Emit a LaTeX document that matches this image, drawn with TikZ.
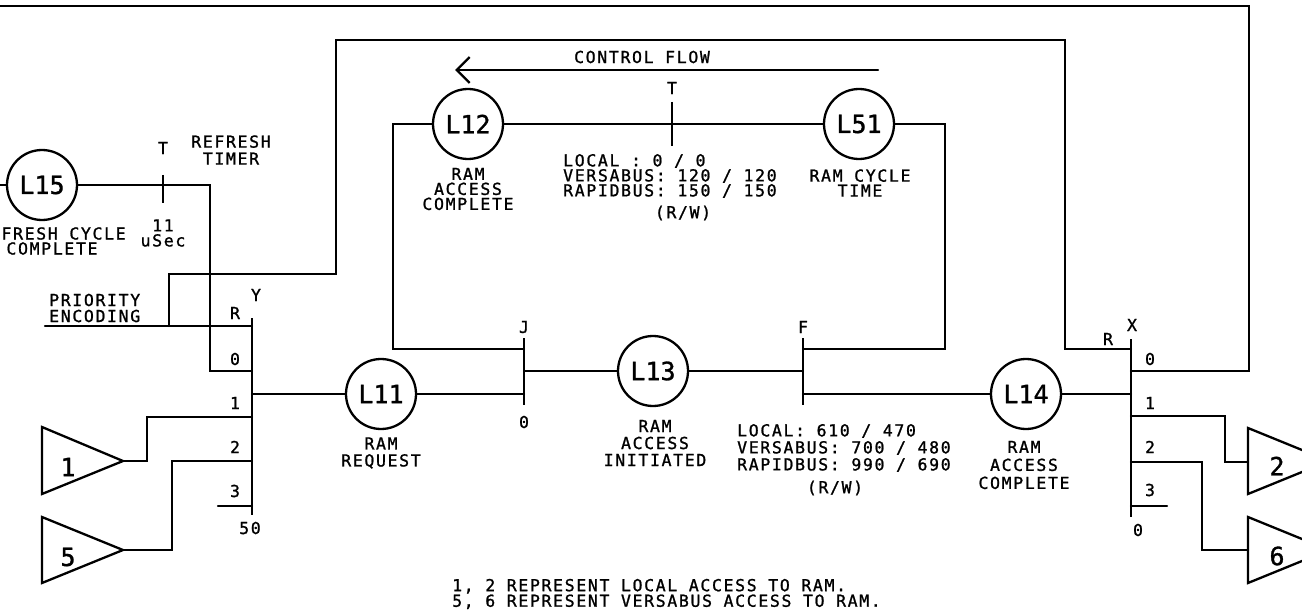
\documentclass[tikz,border=0pt]{standalone}
\usepackage{fontspec}
\newfontfamily\leroy[LetterSpace=10,FakeBold=1.2]{DejaVu Sans Mono}
\newfontfamily\leroybig[FakeBold=1.2]{DejaVu Sans Mono}
\usetikzlibrary{arrows.meta}
\begin{document}
\begin{tikzpicture}[x=1pt,y=-1pt,
  wire/.style={line width=2.3pt, line cap=round, line join=miter},
  bar/.style={line width=2.8pt},
  place/.style={circle, draw, line width=2.3pt, minimum size=70pt, inner sep=0pt, font=\leroybig\fontsize{25}{25}\selectfont},
  lab/.style={font=\leroy\fontsize{16.5}{15}\selectfont, inner sep=0pt, align=center},
  labl/.style={font=\leroy\fontsize{16.5}{17}\selectfont, inner sep=0pt, align=center},
  labw/.style={font=\leroy\fontsize{16.5}{15}\selectfont, inner sep=0pt, align=left, anchor=west},
  big/.style={font=\leroybig\fontsize{25}{25}\selectfont, inner sep=0pt},
  tri/.style={draw, line width=2.3pt, line join=miter}
]
\useasboundingbox (0,0) rectangle (1302,615);

% ---------- places ----------
\node[place] (L15) at (42,185) {L15};
\node[place] (L11) at (381,394) {L11};
\node[place] (L13) at (653,371) {L13};
\node[place] (L14) at (1026,394) {L14};
\node[place] (L12) at (468,124) {L12};
\node[place] (L51) at (859,124) {L51};

% ---------- coordinates ----------
\coordinate (otl) at (-10,6);
\coordinate (otr) at (1249,6);
\coordinate (pe)  at (45,326);
\coordinate (ilb) at (169,326);
\coordinate (ilc) at (336,274);
\coordinate (ilt) at (1065,40);
\coordinate (l15in) at (-10,185);
\coordinate (rtc) at (210,185);
% Y bar
\coordinate (Ytop) at (252,318);
\coordinate (Ybot) at (252,515);
\coordinate (YR) at (252,326);
\coordinate (Y0) at (252,371);
\coordinate (Yout) at (252,394);
\coordinate (Y1) at (252,417);
\coordinate (Y2) at (252,461);
\coordinate (Y3) at (252,506);
\coordinate (Y3s) at (218,506);
\coordinate (c1) at (147,461);
\coordinate (c2) at (172,550);
% J bar
\coordinate (Jtop) at (524,338);
\coordinate (Jbot) at (524,405);
\coordinate (Jt) at (524,349);
\coordinate (Jo) at (524,371);
\coordinate (Jb) at (524,394);
\coordinate (lc) at (393,124);
% F bar
\coordinate (Ftop) at (803,338);
\coordinate (Fbot) at (803,405);
\coordinate (Ft) at (803,349);
\coordinate (Fi) at (803,371);
\coordinate (Fb) at (803,394);
\coordinate (rc) at (945,124);
% X bar
\coordinate (Xtop) at (1131,339);
\coordinate (Xbot) at (1131,517);
\coordinate (XR) at (1131,349);
\coordinate (X0) at (1131,371);
\coordinate (Xin) at (1131,394);
\coordinate (X1) at (1131,416);
\coordinate (X2) at (1131,462);
\coordinate (X3) at (1131,506);
\coordinate (X3s) at (1167,506);
\coordinate (d1) at (1225,462);
\coordinate (d2) at (1202,550);
% T ticks
\coordinate (tk1a) at (163,175);
\coordinate (tk1b) at (163,203);
\coordinate (tk2a) at (672,102);
\coordinate (tk2b) at (672,146);
% arrow
\coordinate (af) at (878,70);
\coordinate (at) at (455,70);

% ---------- triangles ----------
\coordinate (t1a) at (42,427); \coordinate (t1b) at (42,494); \coordinate (t1tip) at (123,461);
\coordinate (t5a) at (42,517); \coordinate (t5b) at (42,583); \coordinate (t5tip) at (123,550);
\coordinate (t2a) at (1248,428); \coordinate (t2b) at (1248,494); \coordinate (t2tip) at (1329,461);
\coordinate (t6a) at (1248,517); \coordinate (t6b) at (1248,583); \coordinate (t6tip) at (1329,550);
\draw[tri] (t1a) -- (t1b) -- (t1tip) -- cycle;
\draw[tri] (t5a) -- (t5b) -- (t5tip) -- cycle;
\draw[tri] (t2a) -- (t2b) -- (t2tip) -- cycle;
\draw[tri] (t6a) -- (t6b) -- (t6tip) -- cycle;
\node[big] (n1) at (68,467) {1};
\node[big] (n5) at (68,557) {5};
\node[big] (n2) at (1277,466) {2};
\node[big] (n6) at (1277,556) {6};

% ---------- bars ----------
\draw[bar] (Ytop) -- (Ybot);
\draw[bar] (Jtop) -- (Jbot);
\draw[bar] (Ftop) -- (Fbot);
\draw[bar] (Xtop) -- (Xbot);
\draw[bar] (tk1a) -- (tk1b);
\draw[bar] (tk2a) -- (tk2b);

% ---------- wires ----------
\draw[wire] (otl) -- (otr) |- (X0);
\draw[wire] (pe) -- (YR);
\draw[wire] (ilb) |- (ilc) |- (ilt) |- (XR);
\draw[wire] (l15in) -- (L15);
\draw[wire] (L15) -- (rtc) |- (Y0);
\draw[wire] (Yout) -- (L11);
\draw[wire] (Y1) -| (c1) -- (t1tip);
\draw[wire] (Y2) -| (c2) -- (t5tip);
\draw[wire] (Y3s) -- (Y3);
\draw[wire] (L11) -- (Jb);
\draw[wire] (L12) -- (lc) |- (Jt);
\draw[wire] (Jo) -- (L13);
\draw[wire] (L13) -- (Fi);
\draw[wire] (Ft) -| (rc) -- (L51);
\draw[wire] (L12) -- (L51);
\draw[wire] (Fb) -- (L14);
\draw[wire] (L14) -- (Xin);
\draw[wire] (X1) -| (d1) -- (t2a |- d1);
\draw[wire] (X2) -| (d2) -- (t6a |- d2);
\draw[wire] (X3) -- (X3s);
\draw[wire, -{Straight Barb[length=13pt,width=26pt,line width=2.3pt]}] (af) -- (at);

% ---------- labels ----------
\node[lab] (cf) at (642,57) {CONTROL FLOW};
\node[lab] (tT1) at (163,148) {T};
\node[lab] (tT2) at (672,88) {T};
\node[labl] (rtim) at (231,150) {REFRESH\\TIMER};
\node[lab] (usec) at (163,233) {11\\uSec};
\node[lab] (l15t) at (52,241) {REFRESH CYCLE\\COMPLETE};
\node[labw, font=\leroy\fontsize{16.5}{16}\selectfont] (prio) at (49,308) {PRIORITY\\ENCODING};
\node[lab] (yR) at (235,313) {R};
\node[lab] (yY) at (256,295) {Y};
\node[lab] (y0) at (235,359) {0};
\node[lab] (y1) at (235,403) {1};
\node[lab] (y2) at (235,447) {2};
\node[lab] (y3) at (235,491) {3};
\node[lab] (y50) at (250,528) {50};
\node[lab] (jJ) at (524,327) {J};
\node[lab] (j0) at (524,422) {0};
\node[lab] (fF) at (803,327) {F};
\node[lab] (xR) at (1108,339) {R};
\node[lab] (xX) at (1132,325) {X};
\node[lab] (x0) at (1150,359) {0};
\node[lab] (x1) at (1150,403) {1};
\node[lab] (x2) at (1150,447) {2};
\node[lab] (x3) at (1150,490) {3};
\node[lab] (xb0) at (1138,530) {0};

\node[labl] (l11t) at (381,453) {RAM\\REQUEST};
\node[labl] (l13t) at (655,443) {RAM\\ACCESS\\INITIATED};
\node[labl, font=\leroy\fontsize{16.5}{18}\selectfont] (l14t) at (1024,465) {RAM\\ACCESS\\COMPLETE};
\node[lab] (l12t) at (468,189) {RAM\\ACCESS\\COMPLETE};
\node[lab] (l51t) at (860,183) {RAM CYCLE\\TIME};

\node[labw] (tblk) at (563,176) {LOCAL : 0 / 0\\VERSABUS: 120 / 120\\RAPIDBUS: 150 / 150};
\node[lab] (trw) at (683,213) {(R/W)};
\node[labw, font=\leroy\fontsize{16.5}{17}\selectfont] (bblk) at (737,448) {LOCAL: 610 / 470\\VERSABUS: 700 / 480\\RAPIDBUS: 990 / 690};
\node[lab] (brw) at (835,488) {(R/W)};

\node[labw, font=\leroy\fontsize{16.5}{13}\selectfont] (capt) at (452,594) {1, 2 REPRESENT LOCAL ACCESS TO RAM.\\5, 6 REPRESENT VERSABUS ACCESS TO RAM.};
\end{tikzpicture}
\end{document}
